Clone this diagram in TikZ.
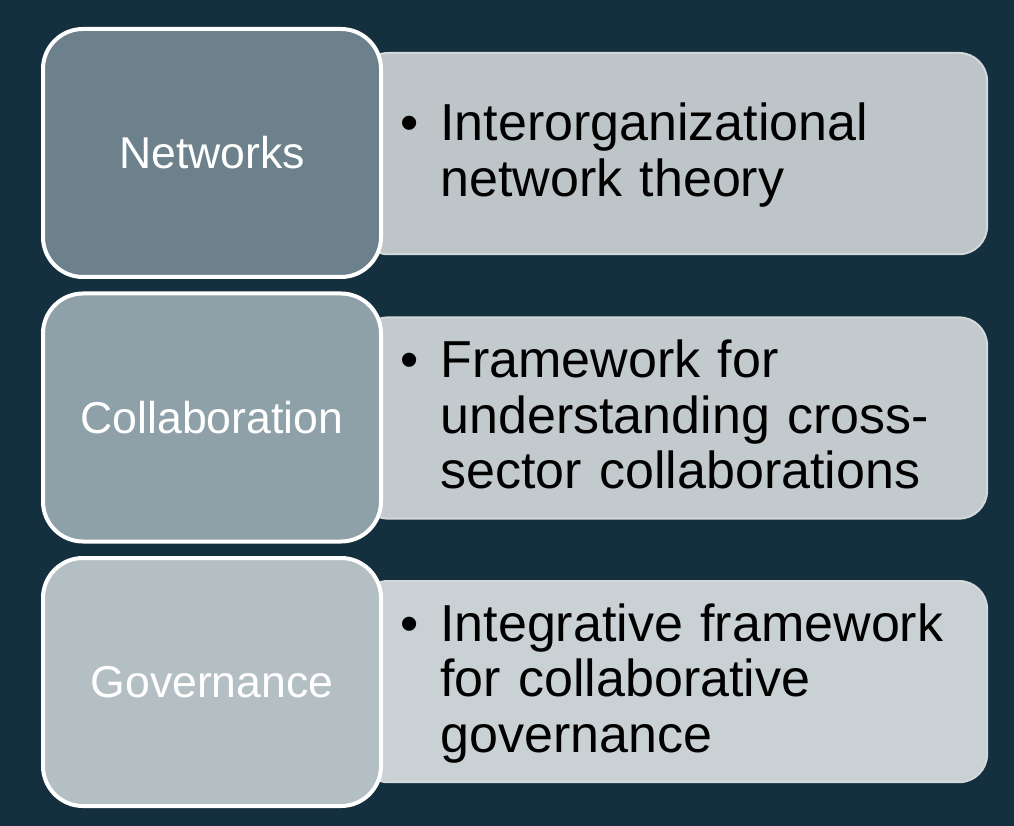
\documentclass[tikz,border=0pt]{standalone}
\usepackage{fontspec}
\setmainfont{Liberation Sans}
\usetikzlibrary{positioning}
\usepackage{xcolor}
\definecolor{slideBg}{HTML}{14303F}
\definecolor{topicOne}{HTML}{6C818B}
\definecolor{topicTwo}{HTML}{8FA1A8}
\definecolor{topicThree}{HTML}{B4BFC4}
\definecolor{detailOne}{HTML}{BEC5C8}
\definecolor{detailTwo}{HTML}{C3CACD}
\definecolor{detailThree}{HTML}{CAD1D4}
\definecolor{detailLine}{HTML}{D3D9DB}
\newcommand{\topstrut}{\rule{0pt}{33.4pt}}

\begin{document}
\begin{tikzpicture}[
        topic/.style={draw=white, line width=0.1cm, rounded corners=1cm, minimum width=8.45cm, minimum height=6.2cm, text=white, font=\fontsize{31.7}{36}\selectfont},
        detail/.style={draw=detailLine, line width=0.05cm, rounded corners=0.7cm, minimum width=15.675cm, minimum height=5.03cm, text width=13.675cm, inner xsep=1cm, align=left, font=\fontsize{37}{39.5}\selectfont}
    ]
        \fill[slideBg] (0,0) rectangle (25.35,-20.65);
        \useasboundingbox (0,0) rectangle (25.35,-20.65);

        \node[detail, fill=detailOne] (netDetail) at (16.84,-3.84) {
            \begin{tabular}{@{}l@{\hspace{0.55cm}}l@{}}
                \topstrut\textbullet & Interorganizational \\
                & network theory
            \end{tabular}
        };
        \node[detail, fill=detailTwo] (collabDetail) at (16.84,-10.45) {
            \begin{tabular}{@{}l@{\hspace{0.55cm}}l@{}}
                \topstrut\textbullet & Framework for \\
                & understanding cross- \\
                & sector collaborations
            \end{tabular}
        };
        \node[detail, fill=detailThree] (govDetail) at (16.84,-17.04) {
            \begin{tabular}{@{}l@{\hspace{0.55cm}}l@{}}
                \topstrut\textbullet & Integrative framework \\
                & for collaborative \\
                & governance
            \end{tabular}
        };

        \node[topic, fill=topicOne] (netTopic) at (5.3,-3.825) {Networks};
        \node[topic, fill=topicTwo] (collabTopic) at (5.3,-10.4375) {Collaboration};
        \node[topic, fill=topicThree] (govTopic) at (5.3,-17.05) {Governance};
    \end{tikzpicture}
\end{document}
